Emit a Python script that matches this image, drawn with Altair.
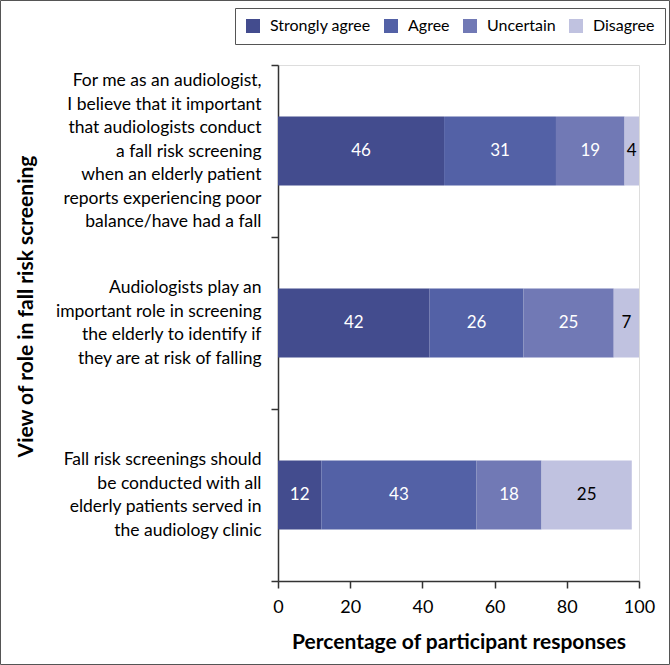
import altair as alt
import pandas as pd

# Survey statements (top to bottom); "|" marks a line break in the axis label
statements = [
    "For me as an audiologist,|I believe that it important|that audiologists conduct|a fall risk screening|when an elderly patient|reports experiencing poor|balance/have had a fall",
    "Audiologists play an|important role in screening|the elderly to identify if|they are at risk of falling",
    "Fall risk screenings should|be conducted with all|elderly patients served in|the audiology clinic",
]
responses = ["Strongly agree", "Agree", "Uncertain", "Disagree"]
colors = ["#434C8E", "#5361A6", "#7179B5", "#C0C2E0"]
label_colors = ["white", "white", "white", "black"]

# Percentage of participant responses per statement, in the order of `responses`
strongly_agree = [46, 42, 12]
agree = [31, 26, 43]
uncertain = [19, 25, 18]
disagree = [4, 7, 25]

rows = []
for i, s in enumerate(statements):
    for j, (r, vals) in enumerate(zip(responses, [strongly_agree, agree, uncertain, disagree])):
        rows.append({"statement": s, "response": r, "order": j, "value": vals[i],
                     "txtcolor": label_colors[j]})
df = pd.DataFrame(rows)

FONT = "Lato"
LINE_H = 23.5

base = alt.Chart(df).transform_stack(
    stack="value", as_=["x0", "x1"], groupby=["statement"],
    sort=[alt.SortField("order", order="ascending")],
).transform_calculate(xmid="(datum.x0 + datum.x1) / 2")

# shift multi-line labels up so each block is centred on its band
label_shift = {
    "condition": {"test": "length(split(datum.label, '|')) > 5", "value": -3 * LINE_H},
    "value": -1.5 * LINE_H,
}

y_axis = alt.Axis(
    title="View of role in fall risk screening",
    titleFont=FONT, titleFontSize=21, titleFontWeight="bold", titleColor="black",
    titleX=-242, titleY=241,
    labelExpr="split(datum.label, '|')",
    labelFont=FONT, labelFontSize=17.5, labelColor="black", labelLineHeight=LINE_H,
    labelLimit=400, labelPadding=10, labelOffset=label_shift,
    tickBand="extent", tickSize=7, tickColor="#333", domainColor="#333",
    domainWidth=1.5, tickWidth=1.5,
)

bars = base.mark_bar(height={"band": 0.4}).encode(
    x=alt.X(
        "x0:Q",
        scale=alt.Scale(domain=[0, 100], nice=False),
        axis=alt.Axis(
            title="Percentage of participant responses",
            values=[0, 20, 40, 60, 80, 100],
            grid=False, labelFlush=False, labelOverlap=False,
            titleFont=FONT, titleFontSize=21, titleFontWeight="bold", titleColor="black",
            titlePadding=15,
            labelFont=FONT, labelFontSize=18, labelColor="black", labelPadding=10,
            tickSize=7, tickColor="#333", domainColor="#333", domainWidth=1.5, tickWidth=1.5,
        ),
    ),
    x2="x1:Q",
    y=alt.Y("statement:N", sort=statements,
            scale=alt.Scale(paddingInner=0, paddingOuter=0), axis=y_axis),
    color=alt.Color(
        "response:N",
        sort=responses,
        scale=alt.Scale(domain=responses, range=colors),
        legend=alt.Legend(
            title=None, orient="none", direction="horizontal",
            legendX=-43, legendY=-57,
            symbolType="square", symbolSize=196, symbolStrokeWidth=0,
            labelFont=FONT, labelFontSize=16, labelColor="black",
            labelOffset=9, columnPadding=12, padding=10,
            strokeColor="#555", fillColor="white",
        ),
    ),
)

labels = base.mark_text(font=FONT, fontSize=17).encode(
    x=alt.X("xmid:Q"),
    y=alt.Y("statement:N", sort=statements),
    text=alt.Text("value:Q"),
    color=alt.Color("txtcolor:N", scale=None),
)

# thin frame around the whole figure
frame = alt.Chart(alt.Data(values=[{"k": 1}])).mark_rect(
    fill=None, stroke="#555", strokeWidth=1
).encode(
    x=alt.value(-277.5), x2=alt.value(391.5),
    y=alt.value(-64.5), y2=alt.value(599.5),
)

chart = alt.layer(bars, labels, frame).properties(
    width=361, height=516,
    autosize=alt.AutoSizeParams(type="none"),
    padding={"left": 278, "top": 65, "right": 31, "bottom": 84},
).configure_view(stroke=None).configure(background="white")

chart.save("out.html", embed_options={"renderer": "svg", "actions": False})
